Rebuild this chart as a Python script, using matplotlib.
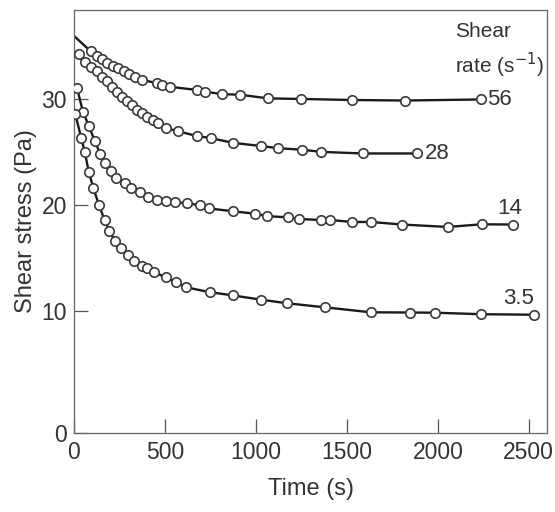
import matplotlib
matplotlib.use("Agg")
import matplotlib.pyplot as plt
from matplotlib import font_manager

# pick a condensed sans if available
names = {f.name for f in font_manager.fontManager.ttflist}
fam = ['Liberation Sans Narrow', 'Liberation Sans', 'DejaVu Sans']
fam = [f for f in fam if f in names] or ['DejaVu Sans']
plt.rcParams['font.family'] = fam

# shear rate 56 s^-1
t56 = [92, 125, 152, 180, 213, 243, 275, 304, 335, 372, 454, 482, 527, 674, 720, 812, 912,
       1068, 1246, 1526, 1819, 2235]
s56 = [34.5, 34.1, 33.75, 33.4, 33.1, 32.9, 32.65, 32.35, 32.1, 31.8, 31.5, 31.3, 31.15, 30.85,
       30.7, 30.45, 30.4, 30.05, 30.0, 29.9, 29.85, 29.95]
start56 = 35.95

# shear rate 28 s^-1
t28 = [27, 60, 92, 125, 152, 180, 207, 235, 262, 290, 317, 345, 372, 399, 436, 463, 504, 573,
       674, 753, 875, 1030, 1121, 1255, 1360, 1588, 1883]
s28 = [34.2, 33.5, 33.05, 32.6, 32.1, 31.65, 31.15, 30.7, 30.2, 29.8, 29.45, 28.95, 28.65, 28.3,
       28.0, 27.7, 27.25, 26.95, 26.5, 26.3, 25.85, 25.55, 25.35, 25.2, 25.0, 24.85, 24.85]
start28 = 34.45

# shear rate 14 s^-1
t14 = [16, 49, 81, 114, 145, 169, 202, 232, 279, 315, 361, 407, 458, 507, 553, 623, 690, 742,
       874, 997, 1059, 1177, 1237, 1357, 1407, 1530, 1634, 1801, 2055, 2240, 2412]
s14 = [31.07, 28.8, 27.48, 26.03, 24.78, 23.98, 23.2, 22.56, 22.04, 21.56, 21.19, 20.71, 20.46,
       20.36, 20.24, 20.15, 19.96, 19.66, 19.39, 19.16, 18.93, 18.82, 18.66, 18.57, 18.57, 18.38,
       18.38, 18.14, 17.91, 18.16, 18.14]

# shear rate 3.5 s^-1
t35 = [7, 40, 59, 81, 107, 136, 169, 195, 227, 257, 296, 332, 374, 401, 442, 504, 562, 615, 745,
       872, 1029, 1172, 1379, 1631, 1846, 1987, 2235, 2529]
s35 = [28.58, 26.29, 25.02, 23.13, 21.56, 20.03, 18.52, 17.53, 16.54, 15.92, 15.29, 14.70, 14.19,
       14.0, 13.64, 13.14, 12.69, 12.22, 11.75, 11.45, 11.04, 10.70, 10.32, 9.85, 9.83, 9.81, 9.67,
       9.62]

xticks = [500, 1000, 1500, 2000, 2500]
yticks = [10, 20, 30]

txt = '#333333'
fig = plt.figure(figsize=(5.55, 5.12), dpi=100)
ax = fig.add_axes([74/555, 79/512, 473/555, 423/512])

series = [
    (t56, s56, start56, '56', (5, 0), 'left', 'center'),
    (t28, s28, start28, '28', (6, 0), 'left', 'center'),
    (t14, s14, None, '14', (-2, 4), 'center', 'bottom'),
    (t35, s35, None, '3.5', (-11, 4), 'center', 'bottom'),
]
for t, s, s0, lab, off, ha, va in series:
    lt, ls = list(t), list(s)
    if s0 is not None:
        lt, ls = [0] + lt, [s0] + ls
    ax.plot(lt, ls, color='#1a1a1a', lw=1.7, zorder=2)
    ax.plot(t, s, 'o', ms=6.8, mfc='white', mec='#3a3a3a', mew=1.2, zorder=3)
    ax.annotate(lab, (t[-1], s[-1]), xytext=off, textcoords='offset points',
                ha=ha, va=va, fontsize=16, color=txt)

ax.text(0.806, 0.95, 'Shear', transform=ax.transAxes, fontsize=15, color=txt,
        ha='left', va='center')
ax.text(0.806, 0.87, 'rate (s$^{-1}$)', transform=ax.transAxes, fontsize=15, color=txt,
        ha='left', va='center')

ax.set_xlim(0, 2600)
ymin = -1.55
ax.set_ylim(ymin, 38.4)
ax.set_xticks([0] + xticks)
ax.set_yticks([ymin] + yticks, ['0'] + [str(v) for v in yticks])
ax.tick_params(direction='in', length=10, width=0.9, color='#555555', labelsize=16.5,
               labelcolor=txt)
ax.tick_params(axis='x', pad=6)
ax.tick_params(axis='y', pad=5)
for sp in ax.spines.values():
    sp.set_color('#666666')
    sp.set_linewidth(0.9)

ax.set_xlabel('Time (s)', fontsize=17, color=txt, labelpad=10)
ax.set_ylabel('Shear stress (Pa)', fontsize=17, color=txt, labelpad=3)

fig.savefig('out.png', dpi=100)
